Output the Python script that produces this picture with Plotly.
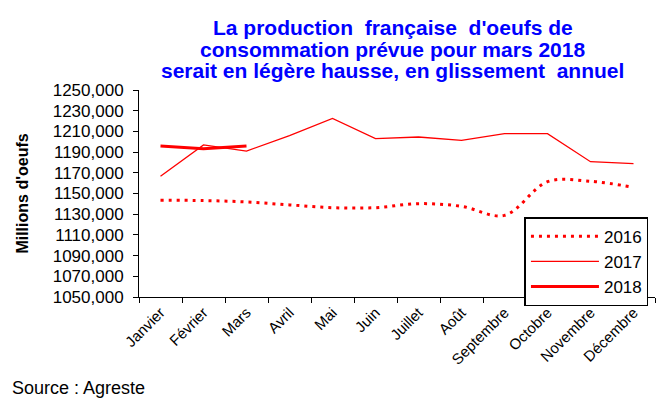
import plotly.graph_objects as go

mois = ['Janvier', 'Février', 'Mars', 'Avril', 'Mai', 'Juin', 'Juillet',
        'Août', 'Septembre', 'Octobre', 'Novembre', 'Décembre']
v2016 = [1143.5, 1143.2, 1141.8, 1139.0, 1136.3, 1136.3, 1140.2,
         1137.6, 1128.9, 1161.4, 1161.8, 1156.0]
v2017 = [1166.6, 1196.9, 1191.0, 1206.0, 1222.6, 1203.0, 1204.6,
         1201.4, 1207.8, 1207.8, 1180.7, 1178.8]
v2018 = [1196.0, 1193.3, 1196.0]
y_ticks = list(range(1050, 1251, 20))
titre = ["La production  française  d'oeufs de",
         "consommation prévue pour mars 2018",
         "serait en légère hausse, en glissement  annuel"]

police = 'Arial, "Liberation Sans", sans-serif'

fig = go.Figure()
fig.add_trace(go.Scatter(x=mois, y=v2016, name='2016', mode='lines',
                         line=dict(color='#FF0000', width=3, dash='3px,5px', shape='spline')))
fig.add_trace(go.Scatter(x=mois, y=v2017, name='2017', mode='lines',
                         line=dict(color='#FF0000', width=1.3)))
fig.add_trace(go.Scatter(x=mois[:3], y=v2018, name='2018', mode='lines',
                         line=dict(color='#FF0000', width=3)))

fig.update_layout(
    width=659, height=401,
    margin=dict(l=139, r=4, t=90, b=104),
    plot_bgcolor='white', paper_bgcolor='white',
    font=dict(family=police, size=16, color='black'),
    xaxis=dict(
        showgrid=False, showline=True, linecolor='black', linewidth=1,
        ticks='outside', ticklen=5, tickcolor='black', tickson='boundaries',
        tickangle=-45, tickfont=dict(size=15), range=[-0.5, 11.5],
        automargin=False,
    ),
    yaxis=dict(
        showgrid=False, showline=True, linecolor='black', linewidth=1,
        ticks='outside', ticklen=5, tickcolor='black', zeroline=False,
        range=[1050, 1250], tickvals=y_ticks, tickfont=dict(size=17),
        ticktext=[f'{v},000' for v in y_ticks], ticklabelstandoff=6,
        automargin=False,
        title=dict(text="Millions d'oeufs", font=dict(size=16, weight='bold'), standoff=20),
    ),
    legend=dict(
        x=0.747, y=0.385, xanchor='left', yanchor='top', xref='paper', yref='paper',
        bordercolor='black', borderwidth=1.5, bgcolor='white',
        font=dict(size=17), itemwidth=68, tracegroupgap=0,
    ),
    showlegend=True,
)

for i, ligne in enumerate(titre):
    fig.add_annotation(text=ligne, xref='paper', yref='paper',
                       x=0.492, y=1.304 - i * 0.106, xanchor='center', yanchor='middle',
                       showarrow=False,
                       font=dict(size=21, color='#0000FF', family=police, weight='bold'))

fig.add_annotation(text='Source : Agreste', xref='paper', yref='paper',
                   x=-0.25, y=-0.44, xanchor='left', yanchor='middle', showarrow=False,
                   font=dict(size=18))

fig.write_html('out.html', config={'displayModeBar': False},
               post_script="document.body.style.margin='0';")
